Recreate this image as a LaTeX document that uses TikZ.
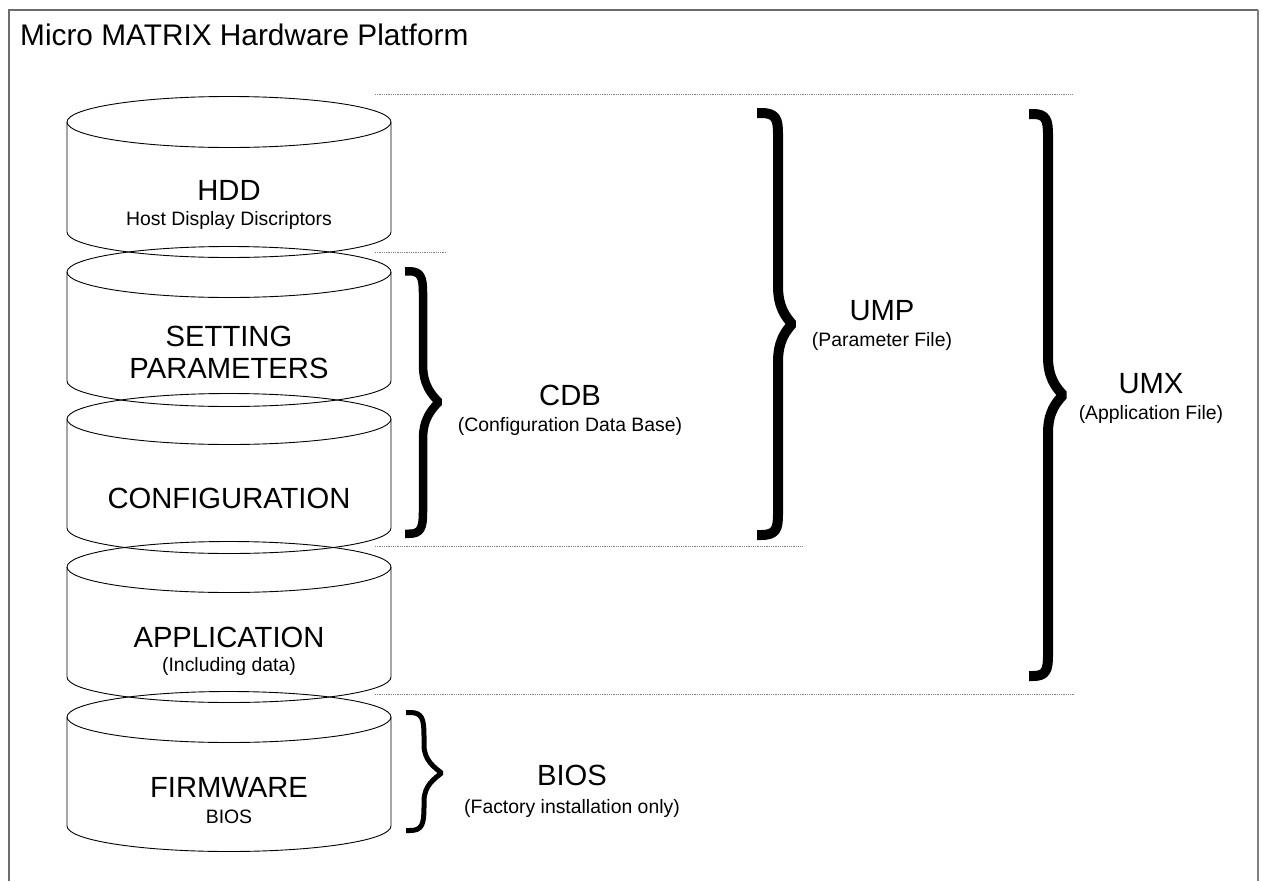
\documentclass[tikz,border=0pt]{standalone}
\usepackage{fontspec}
\setmainfont{Liberation Sans}
\tikzset{
  lbl/.style={anchor=base, inner sep=0pt, font=\fontsize{29.2}{34}\selectfont},
  sublbl/.style={anchor=base, inner sep=0pt, font=\fontsize{19.4}{22}\selectfont},
  cyl/.style={draw=black, line width=0.9pt},
  dotline/.style={draw=gray, line width=0.8pt, dash pattern=on 0.8pt off 1pt},
  bracestyle/.style={draw=black, line join=bevel, line cap=butt},
  frameline/.style={draw=gray!85!black, line width=1.2pt}
}
% xl, xs, xt, yt, ym, yb, w, h
\newcommand{\drawbrace}[8]{%
  \draw[bracestyle, line width=#7pt]
    ({#1},{#4+#7/2}) -- ({#1+4},{#4+#7/2})
    .. controls ({#2-2},{#4+#7/2}) and ({#2},{#4+#7/2+6}) .. ({#2},{#4+26})
    -- ({#2},{#5-#8})
    .. controls ({#2},{#5-0.45*#8}) and ({#3-#7/2-0.35*(#3-#2)},{#5-0.2*#8}) .. ({#3-#7/2},{#5})
    .. controls ({#3-#7/2-0.35*(#3-#2)},{#5+0.2*#8}) and ({#2},{#5+0.45*#8}) .. ({#2},{#5+#8})
    -- ({#2},{#6-26})
    .. controls ({#2},{#6-#7/2-6}) and ({#2-2},{#6-#7/2}) .. ({#1+4},{#6-#7/2})
    -- ({#1},{#6-#7/2});
}
% top centre y, bottom centre y
\newcommand{\drawcyl}[2]{%
  \draw[cyl] (229,#1) ellipse [x radius=162pt, y radius=25.5pt];
  \draw[cyl] (67,#1) -- (67,#2) arc[start angle=180, end angle=360, x radius=162pt, y radius=25.5pt] -- (391,#1);
}
\begin{document}
\begin{tikzpicture}[x=1pt, y=-1pt]
  \useasboundingbox (0,0) rectangle (1263,881);
  % frame
  \draw[frameline] (9,881) -- (9,10) -- (1258,10);
  \draw[draw=gray, line width=2.4pt] (1258,10) -- (1258,881);
  \node[anchor=base west, inner sep=0pt, font=\fontsize{29.8}{35}\selectfont] (title) at (20,45) {Micro MATRIX Hardware Platform};

  % cylinders
  \drawcyl{122}{232}
  \drawcyl{272}{381}
  \drawcyl{419}{528}
  \drawcyl{567}{677}
  \drawcyl{717}{826}

  \node[lbl] (hdd) at (229,200) {HDD};
  \node[sublbl] (hddsub) at (229,225) {Host Display Discriptors};
  \node[lbl] (set1) at (229,346) {SETTING};
  \node[lbl] (set2) at (229,378) {PARAMETERS};
  \node[lbl] (conf) at (229,508) {CONFIGURATION};
  \node[lbl] (app) at (229,647) {APPLICATION};
  \node[sublbl] (appsub) at (229,671) {(Including data)};
  \node[lbl] (fw) at (229,797) {FIRMWARE};
  \node[sublbl] (fwsub) at (229,823) {BIOS};

  % dotted separators
  \draw[dotline] (375,94) -- (1072,94);
  \draw[dotline] (375,252) -- (447,252);
  \draw[dotline] (375,546) -- (803,546);
  \draw[dotline] (375,694) -- (1075,694);

  % braces
  \drawbrace{405}{423}{443}{267}{402}{538}{8.5}{37}
  \drawbrace{757}{778}{797}{108}{324}{540}{10}{38}
  \drawbrace{1029}{1048}{1068}{109}{395}{681}{10}{38}
  \drawbrace{406}{424}{444}{710}{773}{833}{5}{28}

  % right labels
  \node[lbl] (cdb) at (570,405) {CDB};
  \node[sublbl] (cdbsub) at (570,431) {(Configuration Data Base)};
  \node[lbl] (ump) at (882,320) {UMP};
  \node[sublbl] (umpsub) at (882,346) {(Parameter File)};
  \node[lbl] (umx) at (1151,393) {UMX};
  \node[sublbl] (umxsub) at (1151,419) {(Application File)};
  \node[lbl] (bios) at (572,785) {BIOS};
  \node[sublbl] (biossub) at (572,813) {(Factory installation only)};
\end{tikzpicture}
\end{document}
